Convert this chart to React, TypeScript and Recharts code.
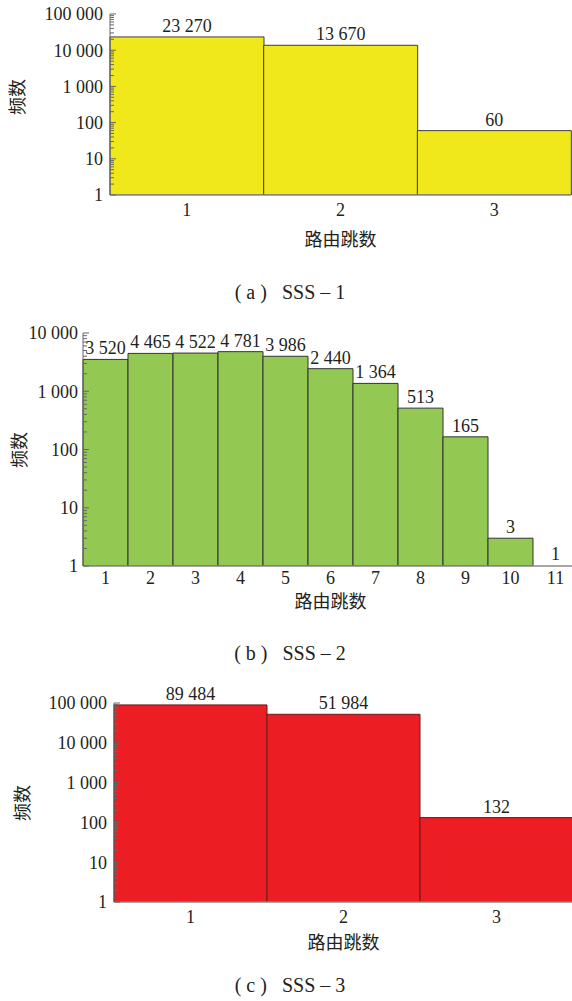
import { Bar, BarChart, Label, LabelList, Rectangle, XAxis, YAxis } from "recharts";

// route hop counts and their frequencies, one set per scheme
const hopsA = ["1", "2", "3"];
const countsA = [23270, 13670, 60];

const hopsB = ["1", "2", "3", "4", "5", "6", "7", "8", "9", "10", "11"];
const countsB = [3520, 4465, 4522, 4781, 3986, 2440, 1364, 513, 165, 3, 1];

const hopsC = ["1", "2", "3"];
const countsC = [89484, 51984, 132];

const decadesA = [1, 10, 100, 1000, 10000, 100000];
const decadesB = [1, 10, 100, 1000, 10000];
const decadesC = [1, 10, 100, 1000, 10000, 100000];

const SERIF = "Liberation Serif";
const CJK = "Noto Sans CJK SC";
const INK = "#231f20";
const FS = 18;

const fmt = (v: number | string) => String(v).replace(/\B(?=(\d{3})+(?!\d))/g, " ");

// log axis: label the decades, minor marks at 2..9 of each decade
const withMinor = (decades: number[]) => {
  const out: number[] = [];
  decades.forEach((d, i) => {
    out.push(d);
    if (i < decades.length - 1) for (let k = 2; k <= 9; k++) out.push(d * k);
  });
  return out;
};

// a count of 1 sits on the baseline: keep its label, draw no box
const barShape = (props: any) => (props.height > 1.5 ? <Rectangle {...props} /> : <g />);

type Spec = {
  hops: string[];
  counts: number[];
  decades: number[];
  top: number;
  plotTop: number;
  plotBottom: number;
  plotLeft: number;
  plotRight: number;
  yTitleX: number;
  yTitleY: number;
  xTitleY: number;
  xTickGap: number;
  captionY: number;
  caption: string;
  fill: string;
  stroke: string;
  tickGap: number;
};

const panels: Spec[] = [
  {
    hops: hopsA, counts: countsA, decades: decadesA,
    top: 0, plotTop: 14, plotBottom: 195, plotLeft: 110, plotRight: 571,
    yTitleX: 18, yTitleY: 97, xTitleY: 240, xTickGap: 8, captionY: 292,
    caption: "( a ) \u2002SSS – 1", fill: "#F0E81B", stroke: "#3d3d3d", tickGap: 7,
  },
  {
    hops: hopsB, counts: countsB, decades: decadesB,
    top: 310, plotTop: 333, plotBottom: 566, plotLeft: 83, plotRight: 578,
    yTitleX: 20, yTitleY: 450, xTitleY: 602, xTickGap: 5, captionY: 653,
    caption: "( b ) \u2002SSS – 2", fill: "#93C853", stroke: "#333333", tickGap: 5,
  },
  {
    hops: hopsC, counts: countsC, decades: decadesC,
    top: 670, plotTop: 703, plotBottom: 902, plotLeft: 114, plotRight: 573,
    yTitleX: 23, yTitleY: 803, xTitleY: 943, xTickGap: 8, captionY: 985,
    caption: "( c ) \u2002SSS – 3", fill: "#ED1D24", stroke: "#6a1c1c", tickGap: 7,
  },
];

function HopChart({ s }: { s: Spec }) {
  const data = s.hops.map((hop, i) => ({ hop, value: s.counts[i] }));
  const axisH = 60;
  const height = s.plotBottom - s.top + axisH;

  const logTick = (props: any) => {
    const { x, y, payload } = props;
    const major = s.decades.includes(payload.value);
    return (
      <g>
        <line x1={x} x2={x + (major ? 6 : 4)} y1={y} y2={y} stroke="#666" strokeWidth={1} />
        {major && (
          <text x={x - s.tickGap} y={y} dy="0.35em" textAnchor="end" fontFamily={SERIF} fontSize={FS} fill={INK}>
            {fmt(payload.value)}
          </text>
        )}
      </g>
    );
  };

  return (
    <div style={{ position: "absolute", top: s.top, left: 0 }}>
      <BarChart
        width={s.plotRight + 2}
        height={height}
        data={data}
        margin={{ top: s.plotTop - s.top, right: 2, left: 0, bottom: 0 }}
        barCategoryGap={0}
      >
        <XAxis
          dataKey="hop"
          height={axisH}
          interval={0}
          tickLine={false}
          tickSize={0}
          tickMargin={s.xTickGap}
          axisLine={{ stroke: "#888", strokeWidth: 1.5 }}
          tick={{ fontFamily: SERIF, fontSize: FS, fill: INK }}
        >
          <Label
            content={() => (
              <text
                x={(s.plotLeft + s.plotRight) / 2}
                y={s.xTitleY - s.top}
                dy="0.35em"
                textAnchor="middle"
                fontFamily={CJK}
                fontSize={18}
                fill={INK}
              >
                路由跳数
              </text>
            )}
          />
        </XAxis>
        <YAxis
          type="number"
          scale="log"
          domain={[1, s.decades[s.decades.length - 1]]}
          allowDataOverflow
          ticks={withMinor(s.decades)}
          interval={0}
          width={s.plotLeft}
          tickSize={0}
          tickMargin={0}
          tickLine={false}
          axisLine={{ stroke: "#666" }}
          tick={logTick}
        >
          <Label
            content={() => (
              <text
                x={s.yTitleX}
                y={s.yTitleY - s.top}
                transform={`rotate(-90 ${s.yTitleX} ${s.yTitleY - s.top})`}
                dy="0.35em"
                textAnchor="middle"
                fontFamily={CJK}
                fontSize={18}
                fill={INK}
              >
                频数
              </text>
            )}
          />
        </YAxis>
        <Bar
          dataKey="value"
          fill={s.fill}
          stroke={s.stroke}
          strokeWidth={1}
          minPointSize={1}
          shape={barShape}
          isAnimationActive={false}
        >
          <LabelList
            dataKey="value"
            position="top"
            offset={5}
            formatter={(v: any) => fmt(v)}
            style={{ fontFamily: SERIF, fontSize: FS, fill: INK }}
          />
        </Bar>
      </BarChart>
      <div
        style={{
          position: "absolute",
          top: s.captionY - s.top - 12,
          left: 190,
          width: 200,
          textAlign: "center",
          lineHeight: "24px",
          fontFamily: SERIF,
          fontSize: 20,
          color: INK,
          whiteSpace: "pre",
        }}
      >
        {s.caption}
      </div>
    </div>
  );
}

export default function App() {
  return (
    <div
      style={{
        position: "absolute",
        top: 0,
        left: 0,
        width: 572,
        height: 1001,
        overflow: "hidden",
        background: "#fff",
      }}
    >
      {panels.map((s) => (
        <HopChart key={s.caption} s={s} />
      ))}
    </div>
  );
}
